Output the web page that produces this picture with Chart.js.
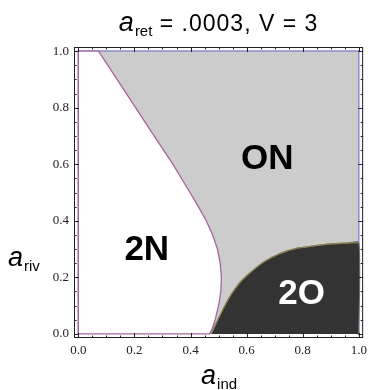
<!DOCTYPE html>
<html><head><meta charset="utf-8">
<script src="https://cdn.jsdelivr.net/npm/chart.js@4"></script>
<style>html,body{margin:0;padding:0;background:#fff;}#wrap{width:372px;height:390px;position:relative;}</style>
</head><body><div id="wrap"><canvas id="c"></canvas></div>
<script>
// ---- data ----
const tickValues = [0, 0.2, 0.4, 0.6, 0.8, 1.0];
const tickLabels = ['0.0', '0.2', '0.4', '0.6', '0.8', '1.0'];
const minorTickValues = [0.05, 0.1, 0.15, 0.25, 0.3, 0.35, 0.45, 0.5, 0.55, 0.65, 0.7, 0.75, 0.85, 0.9, 0.95];

// region 2N (white) boundary
const twoNX = [0, 0, 0.072, 0.138, 0.204, 0.270, 0.337, 0.398, 0.428, 0.456, 0.479, 0.496, 0.506, 0.510, 0.508, 0.500, 0.488, 0.478, 0.468, 0];
const twoNY = [0, 1, 1, 0.9, 0.8, 0.7, 0.6, 0.5, 0.45, 0.40, 0.35, 0.30, 0.25, 0.20, 0.15, 0.10, 0.05, 0.02, 0, 0];

// region 2O (dark) boundary curve (from the x axis to the right edge)
const twoOX = [0.474, 0.497, 0.521, 0.544, 0.574, 0.603, 0.662, 0.721, 0.780, 0.838, 0.897, 0.956, 1.0];
const twoOY = [0, 0.049, 0.097, 0.138, 0.179, 0.208, 0.255, 0.285, 0.303, 0.311, 0.318, 0.321, 0.323];
// closing corner of region 2O
const twoOCornerX = [1.0];
const twoOCornerY = [0];

// region ON (gray) boundary
const onX = [0, 0, 1, 1];
const onY = [0, 1, 1, 0];

// region labels
const regionNames = ['ON', '2N', '2O'];
const regionLabelX = [0.674, 0.244, 0.796];
const regionLabelY = [0.629, 0.306, 0.149];

const pts = (xs, ys) => xs.map((v, i) => ({x: v, y: ys[i]}));

const SANS = '"Liberation Sans", Arial, Helvetica, sans-serif';
const SERIF = '"Liberation Serif", "Times New Roman", serif';

function drawSubLabel(ctx, main, sub, x, y, align) {
  ctx.font = 'italic 27px ' + SANS;
  const w1 = ctx.measureText(main).width;
  ctx.font = '15px ' + SANS;
  const w2 = ctx.measureText(sub).width;
  let x0 = align === 'center' ? x - (w1 + w2) / 2 : x;
  ctx.textAlign = 'left';
  ctx.textBaseline = 'alphabetic';
  ctx.font = 'italic 27px ' + SANS;
  ctx.fillText(main, x0, y);
  ctx.font = '15px ' + SANS;
  ctx.fillText(sub, x0 + w1 + 1, y + 5);
}

const framePlugin = {
  id: 'frame',
  afterDatasetsDraw(chart) {
    const {ctx, scales: {x, y}} = chart;
    const colors = ['#000000', '#000000', '#ffffff'];
    ctx.save();
    ctx.font = 'bold 35px ' + SANS;
    ctx.textAlign = 'center';
    ctx.textBaseline = 'alphabetic';
    regionNames.forEach((t, i) => {
      ctx.fillStyle = colors[i];
      ctx.fillText(t, x.getPixelForValue(regionLabelX[i]), y.getPixelForValue(regionLabelY[i]) + 12.5);
    });
    ctx.restore();
  },
  afterDraw(chart) {
    const {ctx, chartArea: a, scales: {x, y}} = chart;
    ctx.save();
    ctx.strokeStyle = '#222';
    ctx.lineWidth = 1;
    ctx.strokeRect(a.left + 0.5, a.top + 0.5, a.width - 1, a.height - 1);
    ctx.beginPath();
    const tick = (v, len) => {
      const px = Math.round(x.getPixelForValue(v)) + 0.5;
      ctx.moveTo(px, a.bottom); ctx.lineTo(px, a.bottom - len);
      ctx.moveTo(px, a.top); ctx.lineTo(px, a.top + len);
      const py = Math.round(y.getPixelForValue(v)) + 0.5;
      ctx.moveTo(a.left, py); ctx.lineTo(a.left + len, py);
      ctx.moveTo(a.right, py); ctx.lineTo(a.right - len, py);
    };
    tickValues.forEach(v => tick(v, 5));
    minorTickValues.forEach(v => tick(v, 2.5));
    ctx.stroke();

    ctx.fillStyle = '#000';
    // title
    ctx.font = 'italic 27px ' + SANS;
    const wa = ctx.measureText('a').width;
    ctx.font = '15px ' + SANS;
    const wr = ctx.measureText('ret').width;
    ctx.font = '23px ' + SANS;
    try { ctx.letterSpacing = '1px'; } catch (e) {}
    const rest = ' = .0003, V = 3';
    const wrest = ctx.measureText(rest).width;
    const cx = (a.left + a.right) / 2;
    let x0 = cx - (wa + wr + 1 + wrest) / 2;
    ctx.textAlign = 'left';
    ctx.textBaseline = 'alphabetic';
    ctx.fillText(rest, x0 + wa + 1 + wr, 31);
    try { ctx.letterSpacing = '0px'; } catch (e) {}
    ctx.font = 'italic 27px ' + SANS;
    ctx.fillText('a', x0, 31);
    ctx.font = '15px ' + SANS;
    ctx.fillText('ret', x0 + wa + 1, 36);

    drawSubLabel(ctx, 'a', 'ind', cx, 384, 'center');
    drawSubLabel(ctx, 'a', 'riv', 8, 266, 'left');
    ctx.restore();
  }
};

new Chart(document.getElementById('c'), {
  type: 'line',
  data: {
    datasets: [
      {label: '2N', data: pts(twoNX, twoNY), borderColor: '#a8649f', backgroundColor: '#ffffff', fill: 'shape', borderWidth: 1.3, pointRadius: 0, tension: 0},
      {label: '2O boundary', data: pts(twoOX, twoOY), borderColor: '#8c7f4c', fill: false, borderWidth: 1.3, pointRadius: 0, tension: 0.2},
      {label: '2O', data: pts(twoOX.concat(twoOCornerX), twoOY.concat(twoOCornerY)), borderColor: '#6e6e6e', backgroundColor: '#333333', fill: 'shape', borderWidth: 1, pointRadius: 0, tension: 0.2},
      {label: 'ON', data: pts(onX, onY), borderColor: '#8c8cd2', backgroundColor: '#cccccc', fill: 'shape', borderWidth: 1.5, pointRadius: 0, tension: 0}
    ]
  },
  options: {
    responsive: true,
    maintainAspectRatio: false,
    animation: false,
    events: [],
    layout: {padding: {top: 47, right: 6, left: 0, bottom: 0}},
    plugins: {legend: {display: false}, tooltip: {enabled: false}, title: {display: false}},
    scales: {
      x: {
        type: 'linear', min: -0.0155, max: 1.0155,
        afterBuildTicks: s => { s.ticks = tickValues.map(v => ({value: v})); },
        afterFit: s => { s.height = 52; },
        ticks: {callback: (v, i) => tickLabels[i], font: {family: SERIF, size: 13}, color: '#222', padding: 5, maxRotation: 0, autoSkip: false},
        grid: {display: false, drawTicks: false},
        border: {display: false}
      },
      y: {
        type: 'linear', min: -0.0145, max: 1.0145,
        afterBuildTicks: s => { s.ticks = tickValues.map(v => ({value: v})); },
        afterFit: s => { s.width = 74; },
        ticks: {callback: (v, i) => tickLabels[i], font: {family: SERIF, size: 13}, color: '#222', padding: 5, autoSkip: false},
        grid: {display: false, drawTicks: false},
        border: {display: false}
      }
    }
  },
  plugins: [framePlugin]
});
</script>
</body></html>
